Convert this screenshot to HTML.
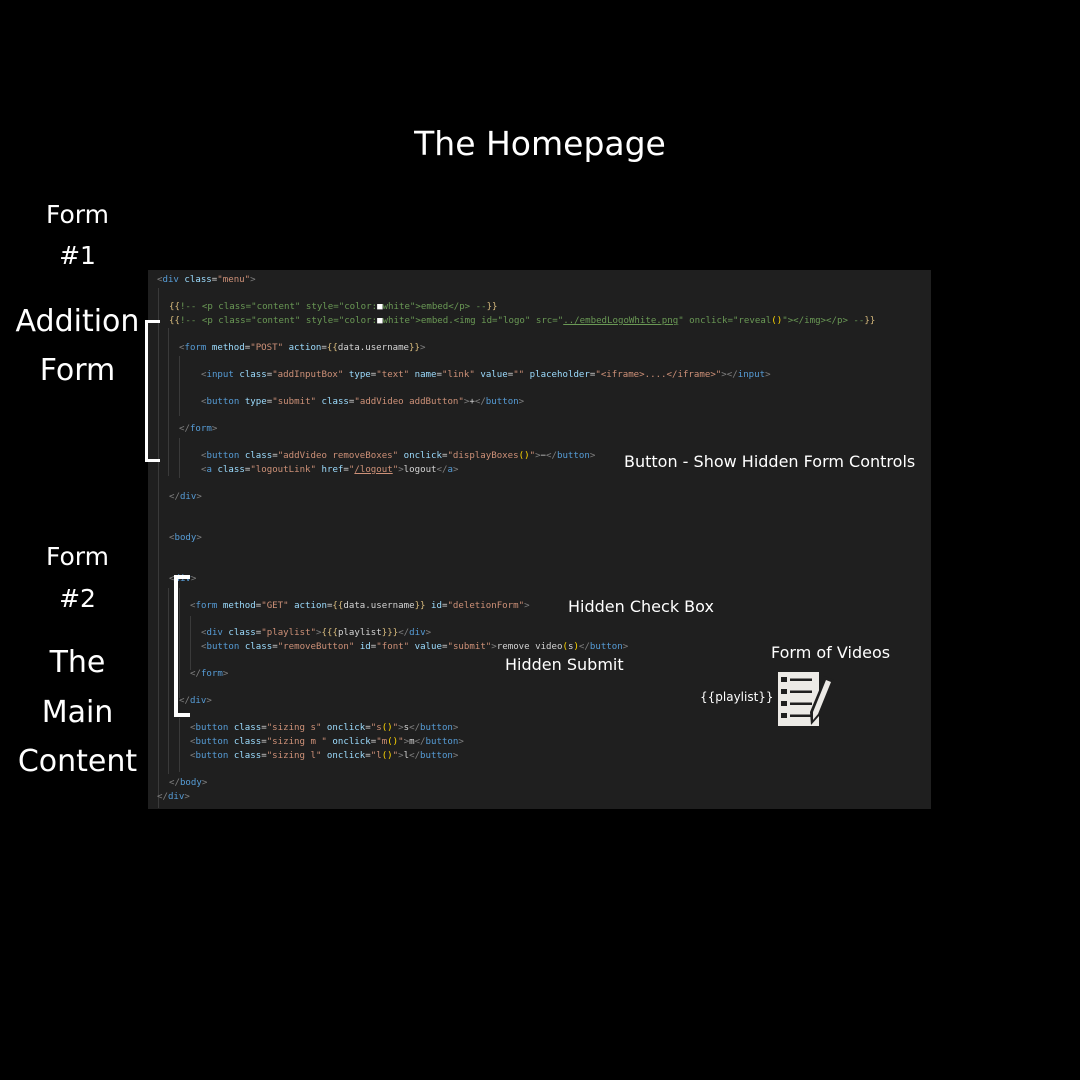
<!DOCTYPE html>
<html><head><meta charset="utf-8"><style>
html,body{margin:0;padding:0;background:#000;}
#root{position:relative;width:1080px;height:1080px;background:#000;overflow:hidden;font-family:"DejaVu Sans","Liberation Sans",sans-serif;color:#fff;}
.lbl{position:absolute;white-space:nowrap;color:#fff;}
#ed{position:absolute;left:148px;top:270px;width:783px;height:539px;background:#1f1f1f;}
.ln{position:absolute;white-space:pre;font-family:"DejaVu Sans Mono","Liberation Mono",monospace;font-size:9.1px;line-height:12px;color:#d4d4d4;}
.t{color:#808080}.n{color:#569cd6}.a{color:#9cdcfe}.s{color:#ce9178}.c{color:#6a9955}.w{color:#d4d4d4}.y{color:#d7ba7d}.g{color:#ffd700}
.guide{position:absolute;width:1px;background:#3a3a3a;}
.br{position:absolute;background:#fff;}
</style></head><body><div id="root">
<div class="lbl" style="left:0;width:1080px;text-align:center;top:124px;font-size:33px;">The Homepage</div>
<div class="lbl" style="left:0;width:155px;text-align:center;top:200px;font-size:25px;">Form</div>
<div class="lbl" style="left:0;width:155px;text-align:center;top:241px;font-size:25px;">#1</div>
<div class="lbl" style="left:0;width:155px;text-align:center;top:304px;font-size:30px;">Addition</div>
<div class="lbl" style="left:0;width:155px;text-align:center;top:353px;font-size:30px;">Form</div>
<div class="lbl" style="left:0;width:155px;text-align:center;top:542px;font-size:25px;">Form</div>
<div class="lbl" style="left:0;width:155px;text-align:center;top:584px;font-size:25px;">#2</div>
<div class="lbl" style="left:0;width:155px;text-align:center;top:645px;font-size:30px;">The</div>
<div class="lbl" style="left:0;width:155px;text-align:center;top:695px;font-size:30px;">Main</div>
<div class="lbl" style="left:0;width:155px;text-align:center;top:744px;font-size:30px;">Content</div>

<div id="ed">
<div class="guide" style="left:10px;top:18px;height:520px"></div>
<div class="guide" style="left:20px;top:58px;height:148px"></div>
<div class="guide" style="left:31px;top:86px;height:60px"></div>
<div class="guide" style="left:31px;top:168px;height:40px"></div>
<div class="guide" style="left:20px;top:318px;height:186px"></div>
<div class="guide" style="left:31px;top:318px;height:110px"></div>
<div class="guide" style="left:42px;top:346px;height:54px"></div>
<div class="guide" style="left:31px;top:448px;height:54px"></div>
</div>

<div class="ln" style="left:157px;top:274px"><span class="t">&lt;</span><span class="n">div</span> <span class="a">class</span>=<span class="s">"menu"</span><span class="t">&gt;</span></div>
<div class="ln c" style="left:169px;top:301px"><span class="y">{{</span>!-- &lt;p class="content" style="color:<span style="color:#fff">■</span>white"&gt;embed&lt;/p&gt; --<span class="y">}}</span></div>
<div class="ln c" style="left:169px;top:315px"><span class="y">{{</span>!-- &lt;p class="content" style="color:<span style="color:#fff">■</span>white"&gt;embed.&lt;img id="logo" src="<span style="text-decoration:underline">../embedLogoWhite.png</span>" onclick="reveal<span class="g">()</span>"&gt;&lt;/img&gt;&lt;/p&gt; --<span class="y">}}</span></div>
<div class="ln" style="left:179px;top:342px"><span class="t">&lt;</span><span class="n">form</span> <span class="a">method</span>=<span class="s">"POST"</span> <span class="a">action</span>=<span class="y">{{</span>data.username<span class="y">}}</span><span class="t">&gt;</span></div>
<div class="ln" style="left:201px;top:369px"><span class="t">&lt;</span><span class="n">input</span> <span class="a">class</span>=<span class="s">"addInputBox"</span> <span class="a">type</span>=<span class="s">"text"</span> <span class="a">name</span>=<span class="s">"link"</span> <span class="a">value</span>=<span class="s">""</span> <span class="a">placeholder</span>=<span class="s">"&lt;iframe&gt;....&lt;/iframe&gt;"</span><span class="t">&gt;&lt;/</span><span class="n">input</span><span class="t">&gt;</span></div>
<div class="ln" style="left:201px;top:396px"><span class="t">&lt;</span><span class="n">button</span> <span class="a">type</span>=<span class="s">"submit"</span> <span class="a">class</span>=<span class="s">"addVideo addButton"</span><span class="t">&gt;</span>+<span class="t">&lt;/</span><span class="n">button</span><span class="t">&gt;</span></div>
<div class="ln" style="left:179px;top:423px"><span class="t">&lt;/</span><span class="n">form</span><span class="t">&gt;</span></div>
<div class="ln" style="left:201px;top:450px"><span class="t">&lt;</span><span class="n">button</span> <span class="a">class</span>=<span class="s">"addVideo removeBoxes"</span> <span class="a">onclick</span>=<span class="s">"displayBoxes<span class="g">()</span>"</span><span class="t">&gt;</span>−<span class="t">&lt;/</span><span class="n">button</span><span class="t">&gt;</span></div>
<div class="ln" style="left:201px;top:464px"><span class="t">&lt;</span><span class="n">a</span> <span class="a">class</span>=<span class="s">"logoutLink"</span> <span class="a">href</span>=<span class="s">"<span style="text-decoration:underline">/logout</span>"</span><span class="t">&gt;</span>logout<span class="t">&lt;/</span><span class="n">a</span><span class="t">&gt;</span></div>
<div class="ln" style="left:169px;top:491px"><span class="t">&lt;/</span><span class="n">div</span><span class="t">&gt;</span></div>
<div class="ln" style="left:169px;top:532px"><span class="t">&lt;</span><span class="n">body</span><span class="t">&gt;</span></div>
<div class="ln" style="left:169px;top:573px"><span class="t">&lt;</span><span class="n">div</span><span class="t">&gt;</span></div>
<div class="ln" style="left:190px;top:600px"><span class="t">&lt;</span><span class="n">form</span> <span class="a">method</span>=<span class="s">"GET"</span> <span class="a">action</span>=<span class="y">{{</span>data.username<span class="y">}}</span> <span class="a">id</span>=<span class="s">"deletionForm"</span><span class="t">&gt;</span></div>
<div class="ln" style="left:201px;top:627px"><span class="t">&lt;</span><span class="n">div</span> <span class="a">class</span>=<span class="s">"playlist"</span><span class="t">&gt;</span><span class="y">{{{</span>playlist<span class="y">}}}</span><span class="t">&lt;/</span><span class="n">div</span><span class="t">&gt;</span></div>
<div class="ln" style="left:201px;top:641px"><span class="t">&lt;</span><span class="n">button</span> <span class="a">class</span>=<span class="s">"removeButton"</span> <span class="a">id</span>=<span class="s">"font"</span> <span class="a">value</span>=<span class="s">"submit"</span><span class="t">&gt;</span>remove video<span class="g">(</span>s<span class="g">)</span><span class="t">&lt;/</span><span class="n">button</span><span class="t">&gt;</span></div>
<div class="ln" style="left:190px;top:668px"><span class="t">&lt;/</span><span class="n">form</span><span class="t">&gt;</span></div>
<div class="ln" style="left:179px;top:695px"><span class="t">&lt;/</span><span class="n">div</span><span class="t">&gt;</span></div>
<div class="ln" style="left:190px;top:722px"><span class="t">&lt;</span><span class="n">button</span> <span class="a">class</span>=<span class="s">"sizing s"</span> <span class="a">onclick</span>=<span class="s">"s<span class="g">()</span>"</span><span class="t">&gt;</span>s<span class="t">&lt;/</span><span class="n">button</span><span class="t">&gt;</span></div>
<div class="ln" style="left:190px;top:736px"><span class="t">&lt;</span><span class="n">button</span> <span class="a">class</span>=<span class="s">"sizing m "</span> <span class="a">onclick</span>=<span class="s">"m<span class="g">()</span>"</span><span class="t">&gt;</span>m<span class="t">&lt;/</span><span class="n">button</span><span class="t">&gt;</span></div>
<div class="ln" style="left:190px;top:750px"><span class="t">&lt;</span><span class="n">button</span> <span class="a">class</span>=<span class="s">"sizing l"</span> <span class="a">onclick</span>=<span class="s">"l<span class="g">()</span>"</span><span class="t">&gt;</span>l<span class="t">&lt;/</span><span class="n">button</span><span class="t">&gt;</span></div>
<div class="ln" style="left:169px;top:777px"><span class="t">&lt;/</span><span class="n">body</span><span class="t">&gt;</span></div>
<div class="ln" style="left:157px;top:791px"><span class="t">&lt;/</span><span class="n">div</span><span class="t">&gt;</span></div>

<div class="br" style="left:145px;top:320px;width:15px;height:3px"></div>
<div class="br" style="left:145px;top:320px;width:3px;height:142px"></div>
<div class="br" style="left:145px;top:459px;width:15px;height:3px"></div>
<div class="br" style="left:174px;top:575px;width:16px;height:4px"></div>
<div class="br" style="left:174px;top:575px;width:4px;height:142px"></div>
<div class="br" style="left:174px;top:713px;width:16px;height:4px"></div>

<div class="lbl" style="left:624px;top:452px;font-size:16px;">Button - Show Hidden Form Controls</div>
<div class="lbl" style="left:568px;top:597px;font-size:16px;">Hidden Check Box</div>
<div class="lbl" style="left:505px;top:655px;font-size:16px;">Hidden Submit</div>
<div class="lbl" style="left:771px;top:643px;font-size:16px;">Form of Videos</div>
<div class="lbl" style="left:700px;top:690px;font-size:12px;">{{playlist}}</div>

<svg style="position:absolute;left:776px;top:670px" width="60" height="58" viewBox="0 0 60 58">
<rect x="2" y="2" width="41" height="54" fill="#eceae6"/>
<g fill="#1f1f1f"><rect x="5" y="7" width="6" height="5"/><rect x="5" y="19" width="6" height="5"/><rect x="5" y="31" width="6" height="5"/><rect x="5" y="43" width="6" height="5"/>
<rect x="14" y="8.5" width="22" height="2.5"/><rect x="14" y="20.5" width="22" height="2.5"/><rect x="14" y="32.5" width="22" height="2.5"/><rect x="14" y="44.5" width="22" height="2.5"/></g>
<path d="M34 42 L49 6 L58 10 L43 46 L35 55 Z" fill="#1f1f1f"/>
<path d="M37 42 L50 10 L55 12 L42 44 L37 50 Z" fill="#eceae6"/>
</svg>
</div></body></html>
